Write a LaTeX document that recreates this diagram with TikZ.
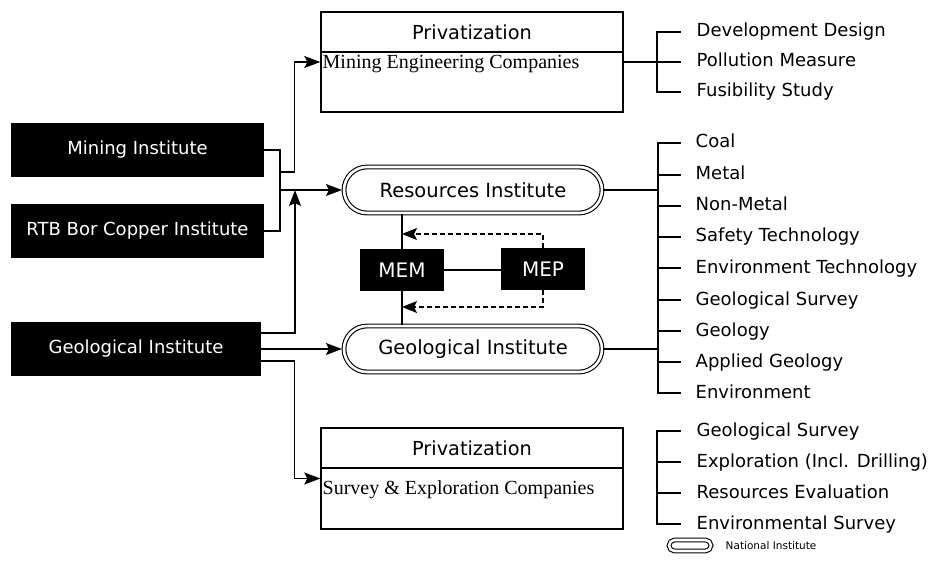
\documentclass[tikz,border=0pt]{standalone}
\usepackage{fontspec}
\setmainfont{DejaVu Sans}
\newfontfamily\serifrm{Liberation Serif}
\usetikzlibrary{arrows.meta,shapes.misc}
\begin{document}
\begin{tikzpicture}[x=1pt,y=-1pt,line width=1.4pt,
  blk/.style={fill=black,draw=black,text=white,inner sep=0pt,font=\fontsize{18}{21}\selectfont},
  nat/.style={rounded rectangle,draw=black,double=white,double distance=2.6pt,line width=1.1pt,
    inner sep=0pt,minimum width=258pt,minimum height=46pt,font=\fontsize{19.5}{22}\selectfont},
  pbox/.style={draw=black,inner sep=0pt,minimum width=302pt},
  ptitle/.style={pbox,minimum height=40pt,font=\fontsize{19.3}{22}\selectfont},
  pcomp/.style={anchor=west,inner sep=0pt,font=\serifrm\fontsize{20}{23}\selectfont},
  item/.style={anchor=west,inner sep=0pt,text height=13.5pt,text depth=3.5pt,font=\fontsize{18}{21}\selectfont},
  arr/.style={-{Stealth[length=16pt,width=12pt,inset=3pt]}},
  darr/.style={-{Stealth[length=15pt,width=12pt,inset=3pt]},dashed,dash pattern=on 5pt off 3pt}]
\useasboundingbox (0,0) rectangle (928,577);

% former institutes
\node[blk,minimum width=251pt,minimum height=52pt] (mi) at (137.5,150) {Mining Institute};
\node[blk,minimum width=251pt,minimum height=52pt] (rtb) at (137.5,231) {RTB Bor Copper Institute};
\node[blk,minimum width=248pt,minimum height=52pt] (gi) at (136,349) {Geological Institute};

% privatized companies
\node[pbox,minimum height=100pt] (pb1) at (472,62) {};
\node[ptitle] (pt1) at (472,32) {Privatization};
\node[pcomp] (pc1) at (322,64) {Mining Engineering Companies};
\node[pbox,minimum height=101pt] (pb2) at (472,478.5) {};
\node[ptitle] (pt2) at (472,448) {Privatization};
\node[pcomp] (pc2) at (322,490) {Survey \& Exploration Companies};

% national institutes
\node[nat] (res) at (473,190) {Resources Institute};
\node[nat] (geo) at (473,349) {Geological Institute};

% ministries
\node[blk,minimum width=82pt,minimum height=40pt,font=\fontsize{20}{23}\selectfont] (mem) at (402,270) {MEM};
\node[blk,minimum width=82pt,minimum height=40pt,font=\fontsize{20}{23}\selectfont] (mep) at (543,269) {MEP};

% junction points
\coordinate (jx) at (280,190);
\coordinate (j2) at (280,172);
\coordinate (jg) at (295,190);
\coordinate (d1) at (402,234);
\coordinate (d2) at (402,307);

% connectors on the left (y axis points down, shifts are in page units)
\draw (mi.east) -| (jx) |- (rtb.east);
\draw[arr] (j2) -| ([xshift=-26pt]pb1.west) -- (pb1.west);
\draw[arr,shorten >=1.5pt] (jx) -- (res.west);
\draw[arr] ([yshift=16pt]gi.east) -| (jg);
\draw[arr,shorten >=1.5pt] (gi.east) -- (geo.west);
\draw[arr] ([yshift=-12pt]gi.east) -| ([xshift=-26pt]pb2.west) -- (pb2.west);

% ministries and their links
\draw (mem.north) -- (mem.north |- res.south);
\draw (mem.south) -- (mem.south |- geo.north);
\draw (mem.east) -- (mep.west |- mem.east);
\draw[darr] (mep.north) |- (d1);
\draw[darr] (mep.south) |- (d2);

% fields of the mining engineering companies
\node[item] (a1) at (696,32) {Development Design};
\node[item] (a2) at (696,62) {Pollution Measure};
\node[item] (a3) at (696,92) {Fusibility Study};
\draw ([xshift=-15pt]a1.west) -| ([xshift=-39pt]a3.west) -- ([xshift=-15pt]a3.west);
\draw ([xshift=-15pt]a2.west) -- (pb1.east |- a2.west);

% fields of the national institutes
\node[item] (c1) at (695,143) {Coal};
\node[item] (c2) at (695,175) {Metal};
\node[item] (c3) at (695,206) {Non-Metal};
\node[item] (c4) at (695,237) {Safety Technology};
\node[item] (c5) at (695,268) {Environment Technology};
\node[item] (c6) at (695,300) {Geological Survey};
\node[item] (c7) at (695,331) {Geology};
\node[item] (c8) at (695,362) {Applied Geology};
\node[item] (c9) at (695,393) {Environment};
\draw ([xshift=-14pt]c1.west) -| ([xshift=-37pt]c9.west) -- ([xshift=-14pt]c9.west);
\foreach \n in {c2,c3,c4,c5,c6,c7,c8}
  \draw ([xshift=-14pt]\n.west) -- ([xshift=-37pt]\n.west);
\draw (res.east) -- ([xshift=-37pt]c1.west |- res.east);
\draw (geo.east) -- ([xshift=-37pt]c1.west |- geo.east);

% fields of the survey and exploration companies
\node[item] (e1) at (696,431) {Geological Survey};
\node[item] (e2) at (696,462) {Exploration (Incl. Drilling)};
\node[item] (e3) at (696,493) {Resources Evaluation};
\node[item] (e4) at (696,524) {Environmental Survey};
\draw ([xshift=-15pt]e1.west) -| ([xshift=-39pt]e4.west) -- ([xshift=-15pt]e4.west);
\foreach \n in {e2,e3}
  \draw ([xshift=-15pt]\n.west) -- ([xshift=-39pt]\n.west);

% legend
\node[rounded rectangle,draw=black,double=white,double distance=2.6pt,line width=1.1pt,
  inner sep=0pt,minimum width=42pt,minimum height=11pt] (leg) at (690,545.5) {};
\node[anchor=west,inner sep=0pt,font=\fontsize{10.5}{13}\selectfont] (legt) at (725,546) {National Institute};
\end{tikzpicture}
\end{document}
